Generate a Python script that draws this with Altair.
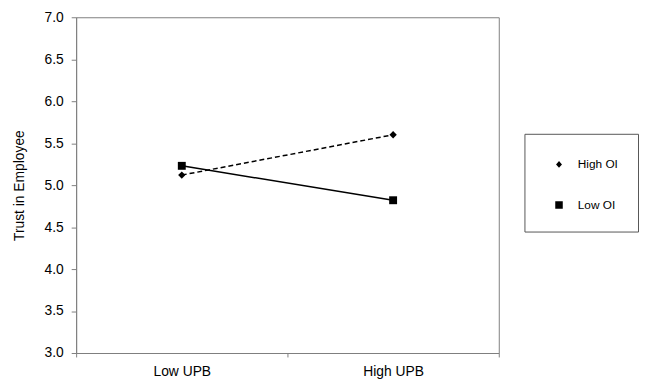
import altair as alt
import pandas as pd

upb = ["Low UPB", "High UPB"]
series = ["High OI", "Low OI"]
high_oi = [5.12, 5.60]
low_oi = [5.23, 4.82]
y_ticks = [3.0, 3.5, 4.0, 4.5, 5.0, 5.5, 6.0, 6.5, 7.0]

rows = []
for s, vals in zip(series, [high_oi, low_oi]):
    for u, v in zip(upb, vals):
        rows.append({"upb": u, "series": s, "trust": v})
df = pd.DataFrame(rows)

FONT = "Liberation Sans"
GRAY = "#7f7f7f"

x = alt.X(
    "upb:N",
    sort=upb,
    scale=alt.Scale(type="band", paddingInner=0, paddingOuter=0),
    axis=alt.Axis(title=None, labelAngle=0, tickBand="extent", tickSize=4,
                  labelPadding=8, labelFontSize=14, domainColor=GRAY, tickColor=GRAY),
)
y = alt.Y(
    "trust:Q",
    scale=alt.Scale(domain=[3, 7], nice=False, zero=False),
    axis=alt.Axis(title="Trust in Employee", values=y_ticks, format=".1f", grid=False,
                  tickSize=5, labelPadding=8, labelFontSize=14, titleFontSize=14,
                  titleFontWeight="normal", titlePadding=18, domainColor=GRAY, tickColor=GRAY),
)

line_high = alt.Chart(df).transform_filter(alt.datum.series == "High OI").mark_line(
    color="black", strokeWidth=1.5, strokeDash=[5, 3]
).encode(x=x, y=y)

line_low = alt.Chart(df).transform_filter(alt.datum.series == "Low OI").mark_line(
    color="black", strokeWidth=1.5
).encode(x=x, y=y)

pts_high = alt.Chart(df).transform_filter(alt.datum.series == "High OI").mark_point(
    shape="diamond", filled=True, color="black", size=55, opacity=1
).encode(x=x, y=y)

pts_low = alt.Chart(df).transform_filter(alt.datum.series == "Low OI").mark_point(
    shape="square", filled=True, color="black", size=64, opacity=1
).encode(x=x, y=y)

diamond_path = "M-1.5,0H1.5M0,-0.34L0.3,0L0,0.34L-0.3,0Z"
square_path = "M-1.5,0H1.5M-0.38,-0.38H0.38V0.38H-0.38Z"

leg = alt.Legend(title=None, symbolStrokeColor="black", symbolFillColor="black",
                 symbolStrokeWidth=1.5, symbolOpacity=1)

legend_layer = alt.Chart(df).transform_filter("false").mark_point(
    filled=False, color="black", fill="black", stroke="black", strokeWidth=1.5
).encode(
    x=x, y=y,
    shape=alt.Shape("series:N", scale=alt.Scale(domain=series, range=[diamond_path, square_path]),
                    legend=leg),
    strokeDash=alt.StrokeDash("series:N", scale=alt.Scale(domain=series, range=[[4, 3], [1, 0]]),
                              legend=leg),
)

chart = alt.layer(line_high, line_low, pts_high, pts_low, legend_layer).properties(
    width=428, height=340,
    autosize=alt.AutoSizeParams(type="none"),
    padding={"left": 69, "top": 7, "right": 142, "bottom": 29},
).configure_view(
    stroke=GRAY, strokeWidth=1
).configure_axis(
    labelFont=FONT, titleFont=FONT, labelColor="black", titleColor="black"
).configure_legend(
    orient="none", legendX=454, legendY=118,
    strokeColor="#555555", fillColor="white", padding=20, rowPadding=23,
    symbolSize=400, symbolOffset=4, labelOffset=8, symbolStrokeWidth=1.5,
    symbolFillColor="black", symbolStrokeColor="black", symbolOpacity=1,
    labelFont=FONT, labelFontSize=12, labelColor="black",
    cornerRadius=0,
)

chart.save("out.html", embed_options={"renderer": "svg", "actions": False})
